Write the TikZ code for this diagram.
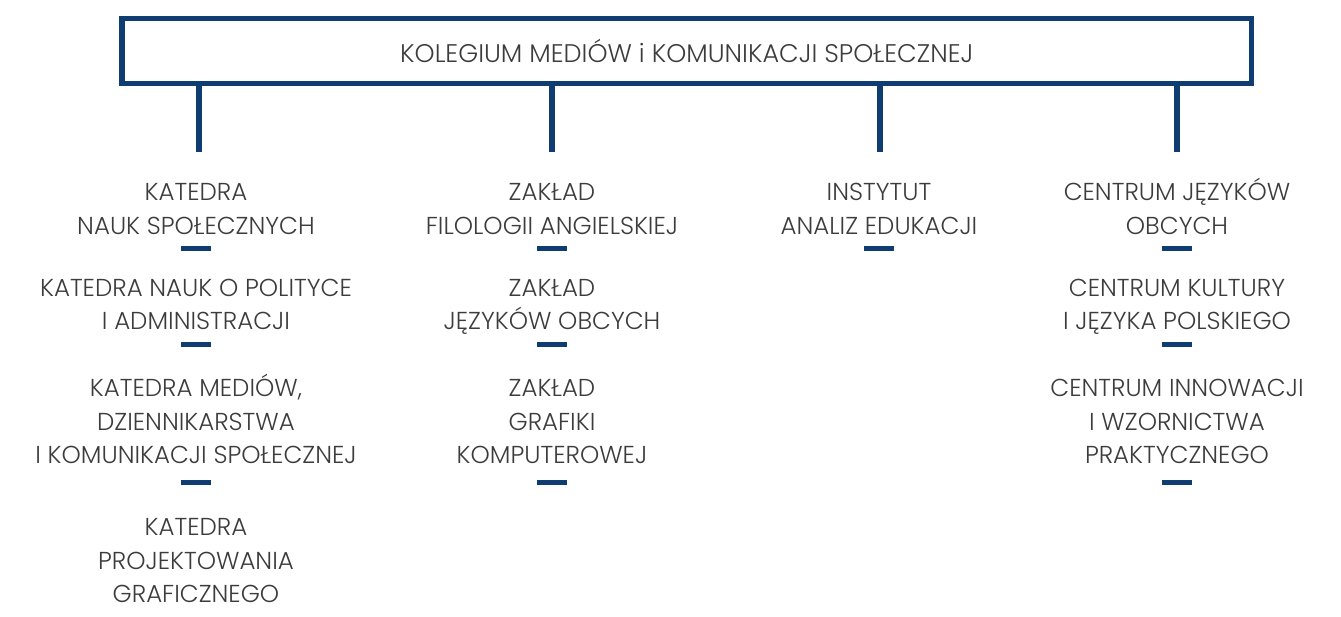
\documentclass[tikz,border=0pt]{standalone}
\usepackage{fontspec}
\setmainfont{Poppins}[UprightFont=* Light]
\usetikzlibrary{positioning}

\definecolor{kmblue}{HTML}{0F3D71}
\definecolor{kmgray}{HTML}{3C3C3C}
\newcommand\kmstrut{\rule[-8pt]{0pt}{33pt}}

\begin{document}
\begin{tikzpicture}[
            x = 1pt, y = -1pt, % pixel grid, y downwards
            node distance = 2pt,
            inner sep = 0pt
        ]

        \tikzset{
            unit/.style = {
                text = kmgray,
                align = center,
                anchor = north,
                font = \fontsize{24.5}{33.5}\selectfont
            },
            bar/.style = {
                fill = kmblue,
                minimum width = 30pt,
                minimum height = 5pt
            },
            link/.style = {
                draw = kmblue,
                line width = 5.5pt
            }
        }

        \useasboundingbox (0,0) rectangle (1341,617);

        % top box
        \node[link, minimum width = 1129.5pt, minimum height = 65pt,
              text = kmgray, font = \fontsize{25.5}{33.5}\selectfont]
            (kolegium) at (686.75,51) {KOLEGIUM MEDIÓW i KOMUNIKACJI SPOŁECZNEJ};

        % column heads
        \coordinate (c1) at (199,152);
        \coordinate (c2) at (552,152);
        \coordinate (c3) at (880,152);
        \coordinate (c4) at (1177,152);

        \foreach \c in {c1,c2,c3,c4}
            \draw[link] (kolegium.south -| \c) -- (\c);

        % katedry
        \node[unit] (k1) at (196,175.5) {\kmstrut KATEDRA\\NAUK SPOŁECZNYCH\kmstrut};
        \node[bar] (k1bar) [below = 3pt of k1] {};
        \node[unit] (k2) [below = 20.5pt of k1bar] {\kmstrut KATEDRA NAUK O POLITYCE\\I ADMINISTRACJI\kmstrut};
        \node[bar] (k2bar) [below = 3.5pt of k2] {};
        \node[unit] (k3) [below = 24.5pt of k2bar] {\kmstrut KATEDRA MEDIÓW,\\DZIENNIKARSTWA\\I KOMUNIKACJI SPOŁECZNEJ\kmstrut};
        \node[bar] (k3bar) [below = 7.5pt of k3] {};
        \node[unit] (k4) [below = 25.5pt of k3bar] {\kmstrut KATEDRA\\PROJEKTOWANIA\\GRAFICZNEGO\kmstrut};

        % zaklady
        \node[unit] (z1) at (552,175.5) {\kmstrut ZAKŁAD\\FILOLOGII ANGIELSKIEJ\kmstrut};
        \node[bar] (z1bar) [below = 3pt of z1] {};
        \node[unit] (z2) [below = 20.5pt of z1bar] {\kmstrut ZAKŁAD\\JĘZYKÓW OBCYCH\kmstrut};
        \node[bar] (z2bar) [below = 3.5pt of z2] {};
        \node[unit] (z3) [below = 24.5pt of z2bar] {\kmstrut ZAKŁAD\\GRAFIKI\\KOMPUTEROWEJ\kmstrut};
        \node[bar] (z3bar) [below = 7.5pt of z3] {};

        % instytut
        \node[unit] (i1) at (879,175.5) {\kmstrut INSTYTUT\\ANALIZ EDUKACJI\kmstrut};
        \node[bar] (i1bar) [below = 3pt of i1] {};

        % centra
        \node[unit] (e1) at (1177,175.5) {\kmstrut CENTRUM JĘZYKÓW\\OBCYCH\kmstrut};
        \node[bar] (e1bar) [below = 3pt of e1] {};
        \node[unit] (e2) [below = 20.5pt of e1bar] {\kmstrut CENTRUM KULTURY\\I JĘZYKA POLSKIEGO\kmstrut};
        \node[bar] (e2bar) [below = 3.5pt of e2] {};
        \node[unit] (e3) [below = 24.5pt of e2bar] {\kmstrut CENTRUM INNOWACJI\\I WZORNICTWA\\PRAKTYCZNEGO\kmstrut};
        \node[bar] (e3bar) [below = 7.5pt of e3] {};

    \end{tikzpicture}
\end{document}
